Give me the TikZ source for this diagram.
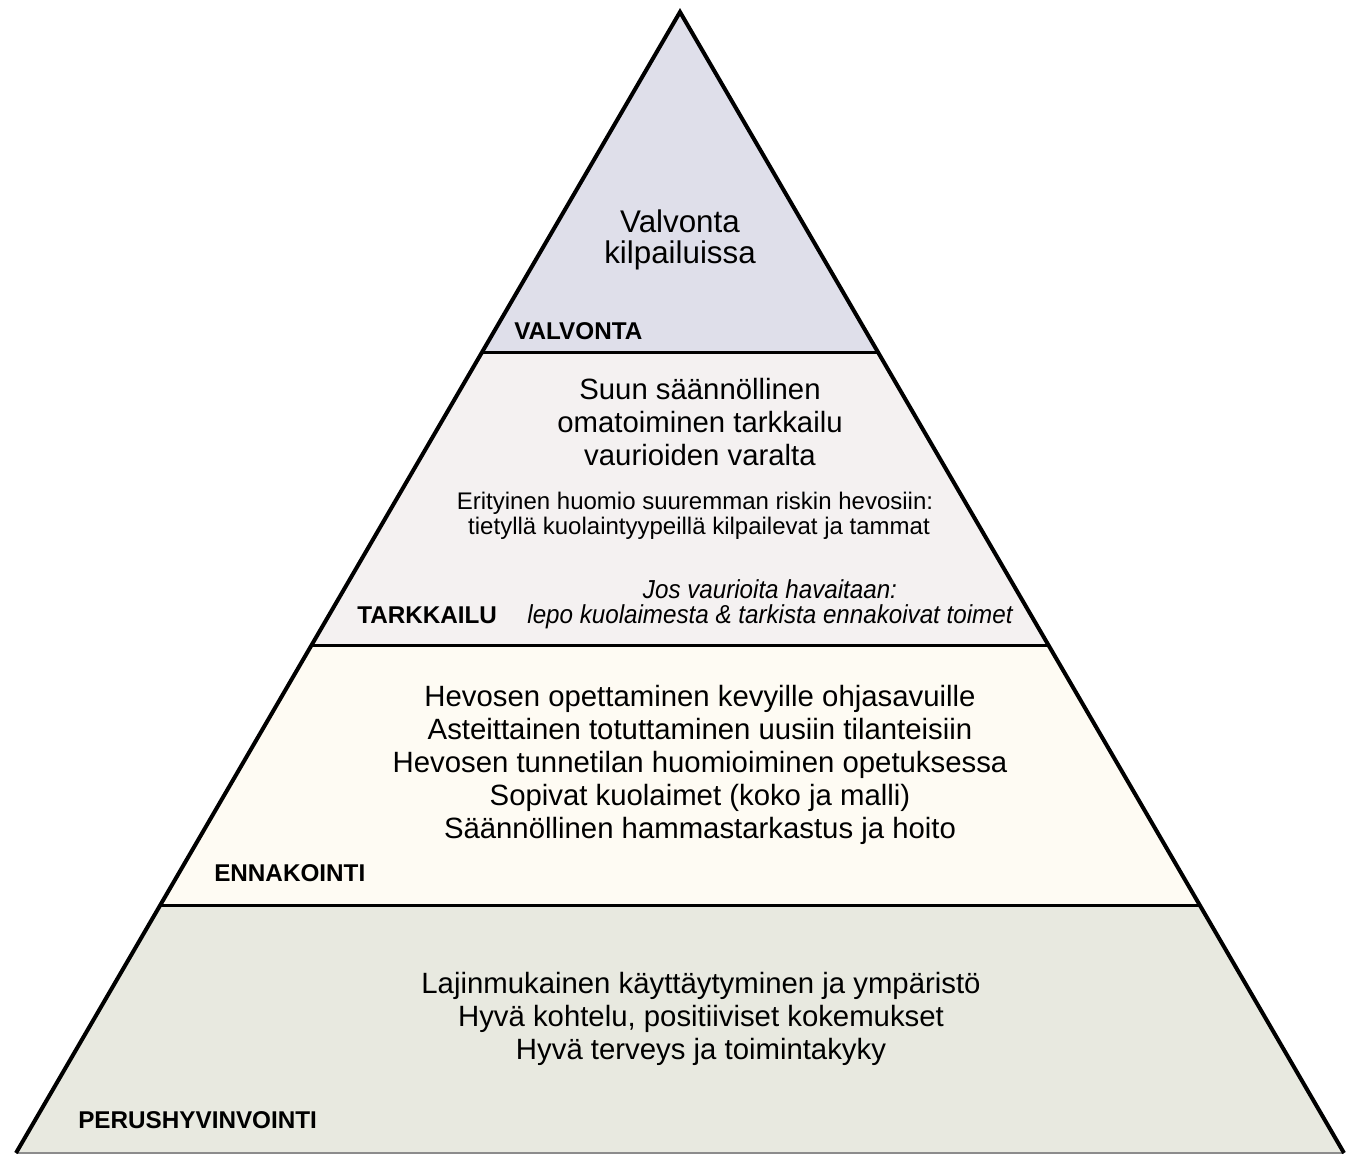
\documentclass[tikz,border=0pt]{standalone}
\usepackage{fontspec}
\setmainfont{Liberation Sans}
\newfontfamily\narrowfam[FakeStretch=0.93]{Liberation Sans}
\usetikzlibrary{calc}
\definecolor{cvalv}{HTML}{DFDFEA}
\definecolor{ctark}{HTML}{F4F1F1}
\definecolor{cenna}{HTML}{FEFBF3}
\definecolor{cperus}{HTML}{E8E9E0}
\tikzset{
  sideline/.style={line width=3pt, line join=miter, black},
  divider/.style={line width=2.25pt, black},
  baseline/.style={line width=1.2pt, black!45},
  level/.style={font=\bfseries\fontsize{18.2}{20}\selectfont, anchor=west, inner sep=0pt},
  body/.style={align=center, inner sep=0pt, font=\fontsize{22}{24.8}\selectfont},
  small/.style={align=center, inner sep=0pt, font=\fontsize{18}{18.8}\selectfont},
  note/.style={align=center, inner sep=0pt, font=\narrowfam\itshape\fontsize{19.5}{18.5}\selectfont},
}
\begin{document}
\begin{tikzpicture}[x=0.75pt, y=-0.75pt]
\useasboundingbox (0,0) rectangle (1352,1155);
\coordinate (A) at (680,12);
\coordinate (L) at (16,1153);
\coordinate (R) at (1344,1153);
\coordinate (l1) at ($(A)!0.298!(L)$);
\coordinate (r1) at ($(A)!0.298!(R)$);
\coordinate (l2) at ($(A)!0.5548!(L)$);
\coordinate (r2) at ($(A)!0.5548!(R)$);
\coordinate (l3) at ($(A)!0.7827!(L)$);
\coordinate (r3) at ($(A)!0.7827!(R)$);
% bands
\fill[cvalv] (A) -- (l1) -- (r1) -- cycle;
\fill[ctark] (l1) -- (l2) -- (r2) -- (r1) -- cycle;
\fill[cenna] (l2) -- (l3) -- (r3) -- (r2) -- cycle;
\fill[cperus] (l3) -- (L) -- (R) -- (r3) -- cycle;
% lines
\draw[baseline] (L) -- (R);
\draw[divider] (l1) -- (r1);
\draw[divider] (l2) -- (r2);
\draw[divider] (l3) -- (r3);
\draw[sideline] (L) -- (A) -- (R);
% texts
\node[align=center, inner sep=0pt, font=\fontsize{23.5}{23.3}\selectfont] (tvalv) at (680,240) {Valvonta\\kilpailuissa};
\node[level] (lvalv) at (514,331) {VALVONTA};
\node[body] (ttark) at (700,422) {Suun säännöllinen\\omatoiminen tarkkailu\\vaurioiden varalta};
\node[small] (stark) at (695,516) {Erityinen huomio suuremman riskin hevosiin:\\\hspace*{6pt}tietyllä kuolaintyypeillä kilpailevat ja tammat};
\node[note] (ntark) at (770,604) {Jos vaurioita havaitaan:\\lepo kuolaimesta \& tarkista ennakoivat toimet};
\node[level] (ltark) at (357,615) {TARKKAILU};
\node[body] (tenna) at (700,765) {Hevosen opettaminen kevyille ohjasavuille\\Asteittainen totuttaminen uusiin tilanteisiin\\Hevosen tunnetilan huomioiminen opetuksessa\\Sopivat kuolaimet (koko ja malli)\\Säännöllinen hammastarkastus ja hoito};
\node[level] (lenna) at (214,873) {ENNAKOINTI};
\node[body] (tperus) at (701,1019) {Lajinmukainen käyttäytyminen ja ympäristö\\Hyvä kohtelu, positiiviset kokemukset\\Hyvä terveys ja toimintakyky};
\node[level] (lperus) at (78,1120) {PERUSHYVINVOINTI};
\end{tikzpicture}
\end{document}
